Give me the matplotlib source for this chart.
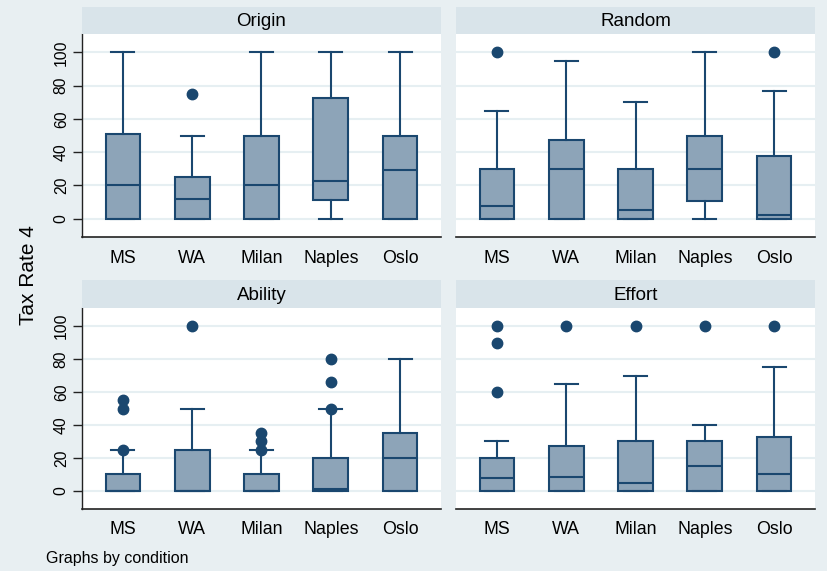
import matplotlib
matplotlib.use("Agg")
import matplotlib.pyplot as plt

plt.rcParams['font.family'] = ['Liberation Sans', 'DejaVu Sans']

categories = ["MS", "WA", "Milan", "Naples", "Oslo"]
panels = ["Origin", "Random", "Ability", "Effort"]

# per panel, per category: [whisker_low, q1, median, q3, whisker_high]
box_stats = {
    "Origin": [[0, 0, 20, 50.7, 100], [0, 0, 12, 25, 50], [0, 0, 20, 50, 100],
               [0, 11, 22.5, 72.5, 100], [0, 0, 29, 50, 100]],
    "Random": [[0, 0, 7.5, 30, 65], [0, 0, 30, 47.5, 95], [0, 0, 5, 30, 70],
               [0, 10.5, 30, 50, 100], [0, 0, 2.5, 37.5, 77]],
    "Ability": [[0, 0, 0, 10, 25], [0, 0, 0, 25, 50], [0, 0, 0, 10, 25],
                [0, 0, 1, 20, 50], [0, 0, 20, 35, 80]],
    "Effort": [[0, 0, 8, 20, 30], [0, 0, 8.5, 27.5, 65], [0, 0, 5, 30, 70],
               [0, 0, 15, 30, 40], [0, 0, 10, 33, 75]],
}
outliers = {
    "Origin": [[], [75], [], [], []],
    "Random": [[100], [], [], [], [100]],
    "Ability": [[25, 50, 55], [100], [25, 30, 35], [50, 66, 80], []],
    "Effort": [[60, 90, 100], [100], [100], [100], [100]],
}
yticks = [0, 20, 40, 60, 80, 100]

W, H = 828, 571
fig = plt.figure(figsize=(W / 100, H / 100), dpi=100)
bg = "#E8EFF2"
fig.patch.set_facecolor(bg)

navy = "#1A476F"
boxfill = "#8DA4B8"
strip = "#D9E4EA"
grid = "#E6EFF2"

# pixel layout: (left, right, top_strip, top_plot, bottom_plot)
layout = {
    "Origin": (82, 441, 7, 34, 237),
    "Random": (456, 815, 7, 34, 237),
    "Ability": (82, 441, 280, 308, 509),
    "Effort": (456, 815, 280, 308, 509),
}

for i, name in enumerate(panels):
    l, r, ts, tp, bp = layout[name]
    ax = fig.add_axes([l / W, 1 - bp / H, (r - l) / W, (bp - tp) / H])
    sax = fig.add_axes([l / W, 1 - tp / H, (r - l) / W, (tp - ts) / H])
    sax.set_facecolor(strip)
    sax.set_xticks([]); sax.set_yticks([])
    for s in sax.spines.values():
        s.set_visible(False)
    sax.text(0.5, 0.45, name, ha="center", va="center", fontsize=13.5, color="black",
             transform=sax.transAxes)

    stats = []
    for j, cat in enumerate(categories):
        wl, q1, med, q3, wh = box_stats[name][j]
        stats.append(dict(whislo=wl, q1=q1, med=med, q3=q3, whishi=wh,
                          fliers=outliers[name][j], label=cat))
    ax.bxp(stats, positions=range(1, 6), widths=0.5, capwidths=0.33,
           patch_artist=True, showfliers=True,
           boxprops=dict(facecolor=boxfill, edgecolor=navy, linewidth=1.5),
           medianprops=dict(color=navy, linewidth=1.5),
           whiskerprops=dict(color=navy, linewidth=1.5),
           capprops=dict(color=navy, linewidth=1.5),
           flierprops=dict(marker="o", markerfacecolor=navy, markeredgecolor=navy,
                           markersize=7.5, linestyle="none"))
    ax.set_xlim(0.41, 5.59)
    ax.set_ylim(-11, 111)
    ax.set_facecolor("white")
    ax.set_yticks(yticks)
    for y in yticks:
        ax.axhline(y, color=grid, linewidth=1.5, zorder=0)
    ax.tick_params(axis="x", length=0, labelsize=12.8, pad=9)
    ax.set_xticks(range(1, 6))
    ax.set_xticklabels(categories)
    ax.spines["top"].set_visible(False)
    ax.spines["right"].set_visible(False)
    ax.spines["bottom"].set_color("#222222")
    ax.spines["bottom"].set_linewidth(1.2)
    if i % 2 == 0:
        ax.spines["left"].set_color("#222222")
        ax.spines["left"].set_linewidth(1.0)
        ax.tick_params(axis="y", length=6.5, width=1, color="#222222", labelsize=11.3, pad=3)
        for lab in ax.get_yticklabels():
            lab.set_rotation(90)
            lab.set_va("center")
    else:
        ax.spines["left"].set_visible(False)
        ax.tick_params(axis="y", length=0, labelleft=False)

fig.text(29 / W, 1 - 275 / H, "Tax Rate 4", rotation=90, ha="center", va="center", fontsize=15)
fig.text(46 / W, 1 - 558 / H, "Graphs by condition", ha="left", va="center", fontsize=11.5)

fig.savefig("out.png", dpi=100, facecolor=bg)
